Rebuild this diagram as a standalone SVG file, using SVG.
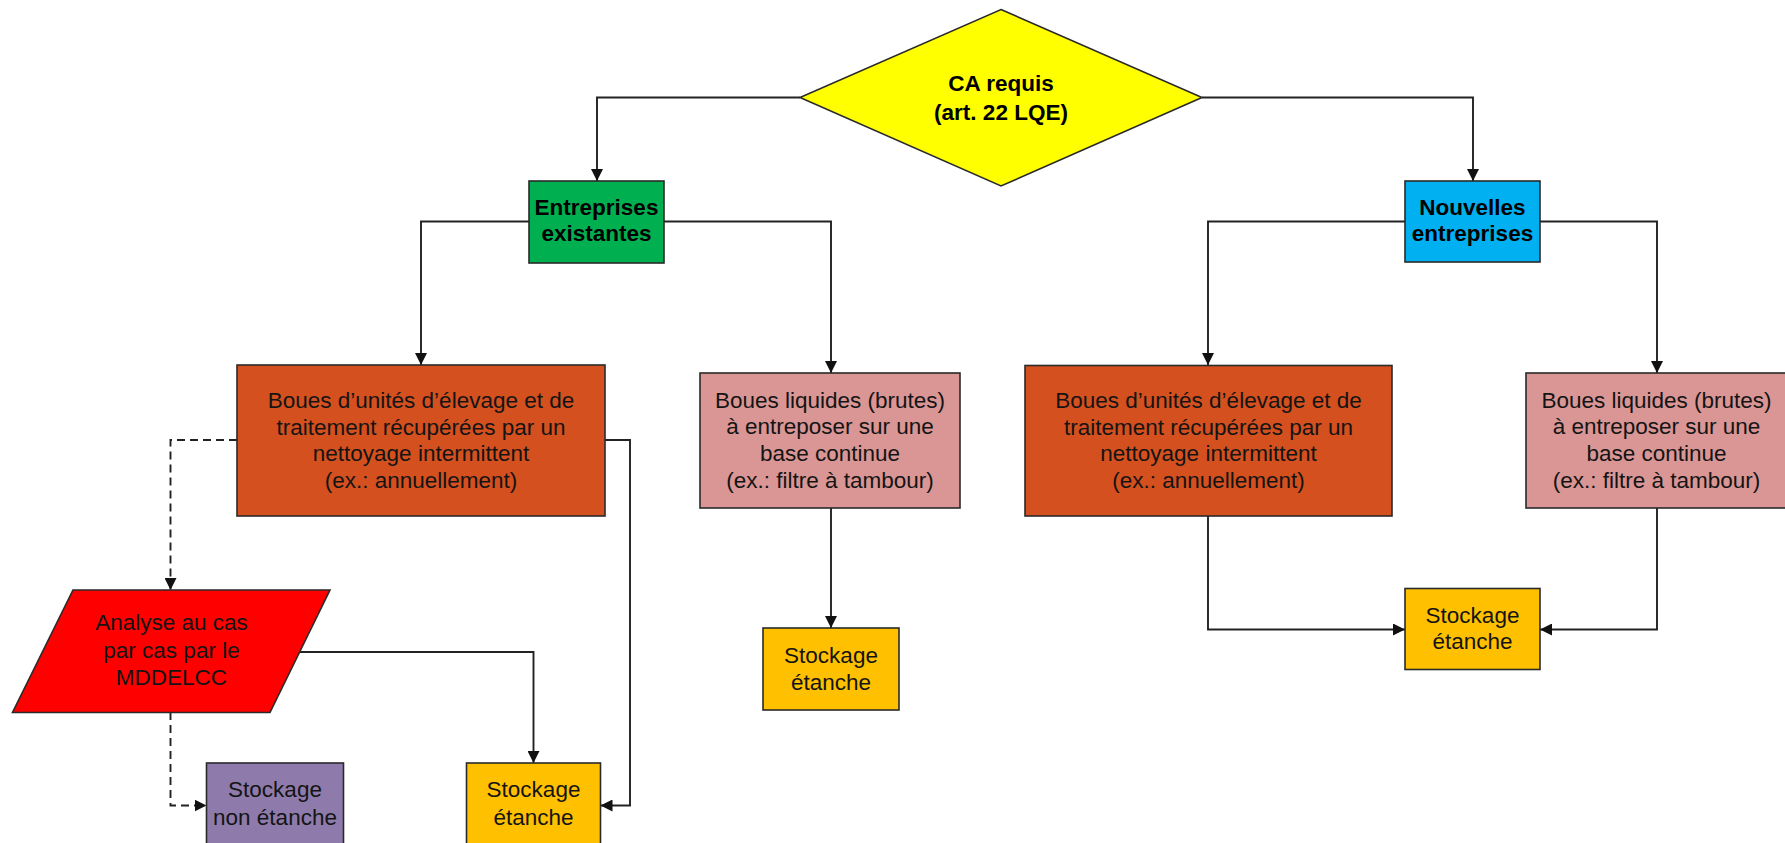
<svg xmlns="http://www.w3.org/2000/svg" width="1785" height="843" viewBox="0 0 1785 843">
<defs>
<style>
.n{stroke:#2a2a2a;stroke-width:1.6}
.t{font-family:"Liberation Sans",Arial,sans-serif;font-size:22.5px;fill:#141414;text-anchor:middle}
.b{font-weight:bold;fill:#000}
.c{fill:none;stroke:#222;stroke-width:1.9}
.d{stroke-dasharray:8 5}
</style>
<marker id="ah" viewBox="0 0 12 12" refX="12" refY="6" markerWidth="12" markerHeight="12" markerUnits="userSpaceOnUse" orient="auto">
<path d="M0,0L12,6L0,12z" fill="#111"/>
</marker>
</defs>
<rect width="1785" height="843" fill="#fff"/>
<g id="connectors">
<path class="c" d="M800,97.5H597V181" marker-end="url(#ah)"/>
<path class="c" d="M1202,97.5H1473V181" marker-end="url(#ah)"/>
<path class="c" d="M529,221.5H421V365" marker-end="url(#ah)"/>
<path class="c" d="M664,221.5H831V373" marker-end="url(#ah)"/>
<path class="c" d="M1405,221.5H1208V365" marker-end="url(#ah)"/>
<path class="c" d="M1540,221.5H1657V373" marker-end="url(#ah)"/>
<path class="c" d="M831,508V628" marker-end="url(#ah)"/>
<path class="c" d="M1208,516V629.5H1405" marker-end="url(#ah)"/>
<path class="c" d="M1657,508V629.5H1540" marker-end="url(#ah)"/>
<path class="c d" d="M237,440H170.5V590" marker-end="url(#ah)"/>
<path class="c d" d="M170.5,712V805.5H206.5" marker-end="url(#ah)"/>
<path class="c" d="M300,652H533.5V763" marker-end="url(#ah)"/>
<path class="c" d="M605,440H630V805.5H600.5" marker-end="url(#ah)"/>
</g>
<g id="ca-requis">
<polygon class="n" points="1001,9.5 1202,97.5 1001,186 800,97.5" fill="#FFFF00"/>
<text class="t b" x="1001" y="91">CA requis</text>
<text class="t b" x="1001" y="120">(art. 22 LQE)</text>
</g>
<g id="entreprises-existantes">
<rect class="n" x="529" y="181" width="135" height="82" fill="#00B050"/>
<text class="t b" x="596.5" y="215">Entreprises</text>
<text class="t b" x="596.5" y="241">existantes</text>
</g>
<g id="nouvelles-entreprises">
<rect class="n" x="1405" y="181" width="135" height="81" fill="#00B0F0"/>
<text class="t b" x="1472.5" y="215">Nouvelles</text>
<text class="t b" x="1472.5" y="241">entreprises</text>
</g>
<g id="boues-intermittent-existantes">
<rect class="n" x="237" y="365" width="368" height="151" fill="#D4501F"/>
<text class="t" x="421" y="407.5">Boues d’unités d’élevage et de</text>
<text class="t" x="421" y="434.5">traitement récupérées par un</text>
<text class="t" x="421" y="461">nettoyage intermittent</text>
<text class="t" x="421" y="488">(ex.: annuellement)</text>
</g>
<g id="boues-liquides-existantes">
<rect class="n" x="700" y="373" width="260" height="135" fill="#DA9694"/>
<text class="t" x="830" y="407.5">Boues liquides (brutes)</text>
<text class="t" x="830" y="434">à entreposer sur une</text>
<text class="t" x="830" y="460.5">base continue</text>
<text class="t" x="830" y="487.5">(ex.: filtre à tambour)</text>
</g>
<g id="boues-intermittent-nouvelles">
<rect class="n" x="1025" y="365.5" width="367" height="150.5" fill="#D4501F"/>
<text class="t" x="1208.5" y="407.5">Boues d’unités d’élevage et de</text>
<text class="t" x="1208.5" y="434.5">traitement récupérées par un</text>
<text class="t" x="1208.5" y="461">nettoyage intermittent</text>
<text class="t" x="1208.5" y="488">(ex.: annuellement)</text>
</g>
<g id="boues-liquides-nouvelles">
<rect class="n" x="1526" y="373" width="262" height="135" fill="#DA9694"/>
<text class="t" x="1656.5" y="407.5">Boues liquides (brutes)</text>
<text class="t" x="1656.5" y="434">à entreposer sur une</text>
<text class="t" x="1656.5" y="460.5">base continue</text>
<text class="t" x="1656.5" y="487.5">(ex.: filtre à tambour)</text>
</g>
<g id="stockage-etanche-liquides">
<rect class="n" x="763" y="628" width="136" height="82" fill="#FFC000"/>
<text class="t" x="831" y="663">Stockage</text>
<text class="t" x="831" y="690">étanche</text>
</g>
<g id="stockage-etanche-nouvelles">
<rect class="n" x="1405" y="588.5" width="135" height="81" fill="#FFC000"/>
<text class="t" x="1472.5" y="623">Stockage</text>
<text class="t" x="1472.5" y="649">étanche</text>
</g>
<g id="analyse-cas-par-cas">
<polygon class="n" points="73,590 330,590 270,712.5 12.5,712.5" fill="#FF0000"/>
<text class="t" x="171.5" y="630">Analyse au cas</text>
<text class="t" x="171.5" y="657.5">par cas par le</text>
<text class="t" x="171.5" y="685">MDDELCC</text>
</g>
<g id="stockage-non-etanche">
<rect class="n" x="206.5" y="763" width="137" height="92" fill="#8E7BAC"/>
<text class="t" x="275" y="797">Stockage</text>
<text class="t" x="275" y="825">non étanche</text>
</g>
<g id="stockage-etanche-existantes">
<rect class="n" x="466.5" y="763" width="134" height="92" fill="#FFC000"/>
<text class="t" x="533.5" y="797">Stockage</text>
<text class="t" x="533.5" y="825">étanche</text>
</g>
</svg>
